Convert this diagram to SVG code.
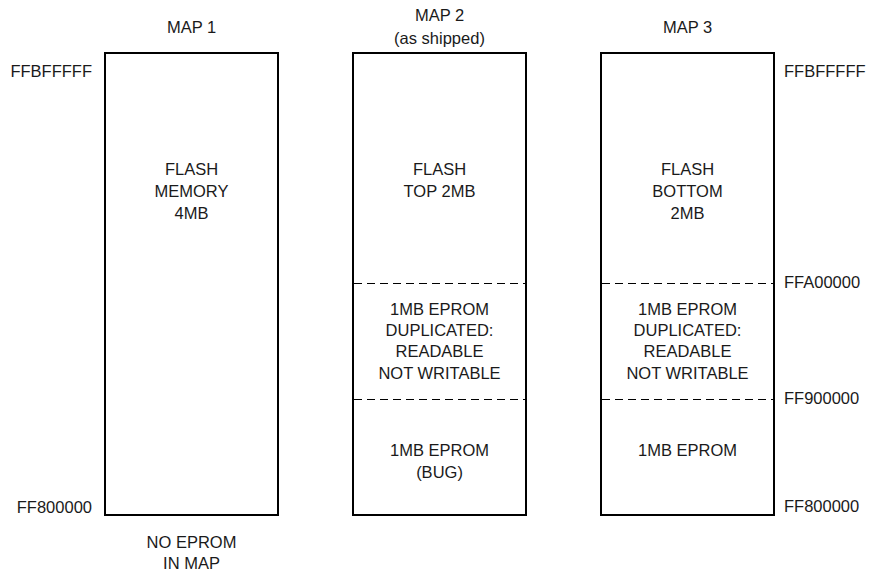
<svg xmlns="http://www.w3.org/2000/svg" width="872" height="572" viewBox="0 0 872 572">
<style>
text{font-family:"Liberation Sans",Arial,sans-serif;font-size:16.5px;fill:#1a1a1a}
.c{text-anchor:middle}
.e{text-anchor:end}
.box{fill:#fff;stroke:#000;stroke-width:2}
.dash{stroke:#000;stroke-width:1;stroke-dasharray:8,5;fill:none}
</style>
<rect width="872" height="572" fill="#fff"/>
<g id="map1">
<text class="c" x="191.5" y="33">MAP 1</text>
<rect class="box" x="105" y="53" width="173" height="462"/>
<text class="c" x="191.5" y="175">FLASH</text>
<text class="c" x="191.5" y="197">MEMORY</text>
<text class="c" x="191.5" y="219">4MB</text>
<text class="c" x="191.5" y="548">NO EPROM</text>
<text class="c" x="191.5" y="569">IN MAP</text>
</g>
<g id="map2">
<text class="c" x="439.5" y="21">MAP 2</text>
<text class="c" x="439.5" y="44">(as shipped)</text>
<rect class="box" x="353" y="53" width="173" height="462"/>
<text class="c" x="439.5" y="175">FLASH</text>
<text class="c" x="439.5" y="197">TOP 2MB</text>
<text class="c" x="439.5" y="315">1MB EPROM</text>
<text class="c" x="439.5" y="336">DUPLICATED:</text>
<text class="c" x="439.5" y="357">READABLE</text>
<text class="c" x="439.5" y="379">NOT WRITABLE</text>
<text class="c" x="439.5" y="456">1MB EPROM</text>
<text class="c" x="439.5" y="478">(BUG)</text>
</g>
<g id="map3">
<text class="c" x="687.5" y="33">MAP 3</text>
<rect class="box" x="601" y="53" width="173" height="462"/>
<text class="c" x="687.5" y="175">FLASH</text>
<text class="c" x="687.5" y="197">BOTTOM</text>
<text class="c" x="687.5" y="219">2MB</text>
<text class="c" x="687.5" y="315">1MB EPROM</text>
<text class="c" x="687.5" y="336">DUPLICATED:</text>
<text class="c" x="687.5" y="357">READABLE</text>
<text class="c" x="687.5" y="379">NOT WRITABLE</text>
<text class="c" x="687.5" y="456">1MB EPROM</text>
</g>
<g id="connectors">
<line class="dash" x1="354" y1="283.5" x2="525" y2="283.5"/>
<line class="dash" x1="354" y1="399.5" x2="525" y2="399.5"/>
<line class="dash" x1="602" y1="283.5" x2="773" y2="283.5"/>
<line class="dash" x1="602" y1="399.5" x2="773" y2="399.5"/>
</g>
<g id="addresses">
<text class="e" x="92" y="77">FFBFFFFF</text>
<text class="e" x="92" y="513">FF800000</text>
<text x="784" y="77">FFBFFFFF</text>
<text x="784" y="288">FFA00000</text>
<text x="784" y="404">FF900000</text>
<text x="784" y="512">FF800000</text>
</g>
</svg>
